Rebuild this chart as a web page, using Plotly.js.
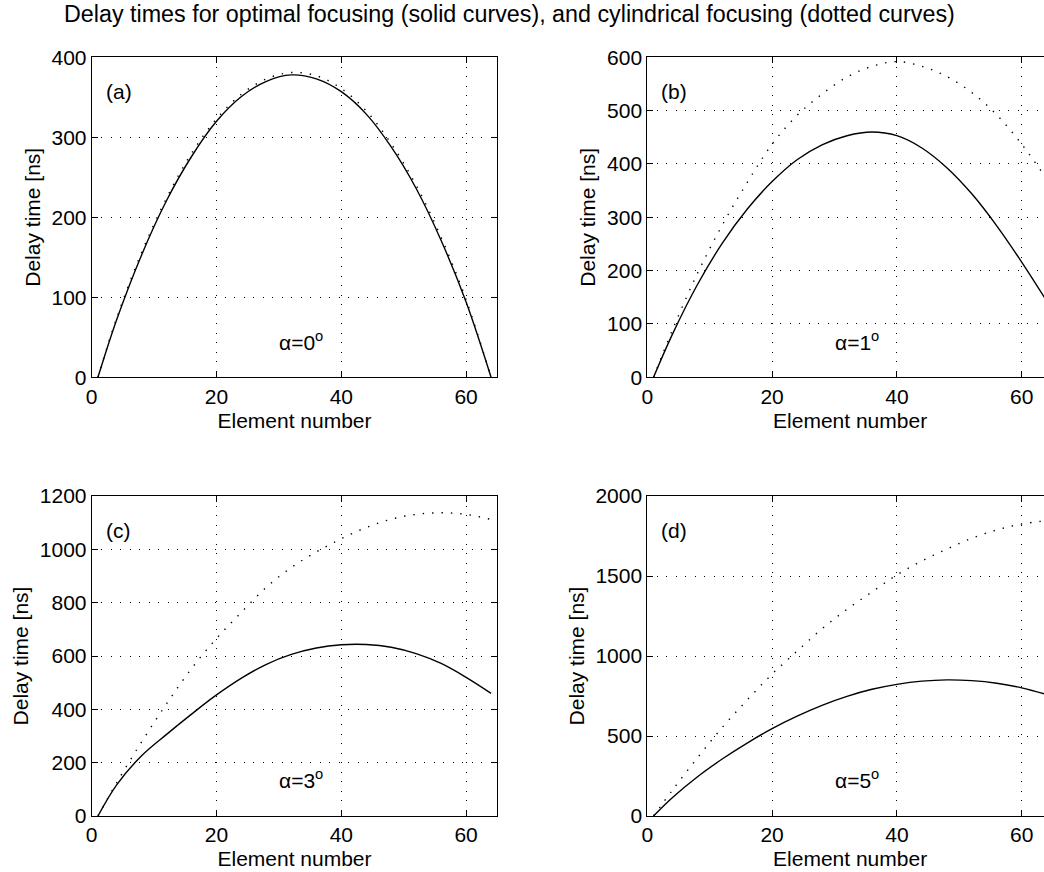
<!DOCTYPE html>
<html>
<head>
<meta charset="utf-8">
<script src="https://cdn.plot.ly/plotly-3.0.1.min.js"></script>
<style>
  html, body { margin: 0; padding: 0; overflow: hidden; background: #fff; }
  #chart { width: 1100px; height: 872px; }
</style>
</head>
<body>
<div id="chart"></div>
<script>
// ---- data ----
const elements = [1, 4, 8, 12, 16, 20, 24, 28, 32, 36, 40, 44, 48, 52, 56, 60, 64];

const optimalA = [0, 72, 153, 221, 276, 320, 351, 370, 378, 373, 357, 329, 288, 236, 171, 94, 0];
const cylA     = [0, 74, 156, 224, 280, 323, 354, 373, 381, 377, 361, 333, 292, 240, 175, 97, 0];

const optimalB = [0, 80, 173, 251, 315, 367, 408, 436, 453, 460, 453, 430, 393, 344, 284, 216, 143];
const cylB     = [0, 88, 194, 285, 365, 437, 491, 531, 563, 583, 592, 583, 564, 534, 492, 437, 372];

const optimalC = [0, 117, 226, 306, 382, 454, 517, 569, 606, 630, 642, 643, 633, 609, 572, 520, 460];
const cylC     = [0, 125, 278, 421, 553, 666, 764, 858, 932, 990, 1040, 1082, 1113, 1131, 1137, 1131, 1112];

const optimalD = [0, 114, 244, 356, 456, 546, 624, 692, 748, 792, 823, 843, 851, 846, 830, 801, 759];
const cylD     = [0, 160, 362, 553, 725, 887, 1030, 1170, 1292, 1400, 1507, 1594, 1668, 1736, 1788, 1825, 1845];

const xTicks = [0, 20, 40, 60];
const panelLabels = ['(a)', '(b)', '(c)', '(d)'];
const angleLabels = ['α=0<sup>o</sup>', 'α=1<sup>o</sup>', 'α=3<sup>o</sup>', 'α=5<sup>o</sup>'];
const yRanges = [[0, 400], [0, 600], [0, 1200], [0, 2000]];
const yDticks = [100, 100, 200, 500];
const titleText = 'Delay times for optimal focusing (solid curves), and cylindrical focusing (dotted curves)';
const xTitle = 'Element number';
const yTitle = 'Delay time [ns]';

// ---- layout geometry (pixels in a 1100 x 872 canvas; window shows 1044) ----
const W = 1100, H = 872;
const FONT = 'Liberation Sans, Arial, Helvetica, sans-serif';
const FS = 21;
const panels = [
  {l: 91.7,  r: 497.3,  t: 57.3, b: 377.3},
  {l: 647.3, r: 1052.9, t: 57.3, b: 377.3},
  {l: 91.7,  r: 497.3,  t: 496,  b: 816},
  {l: 647.3, r: 1052.9, t: 496,  b: 816}
];
const optimal = [optimalA, optimalB, optimalC, optimalD];
const cyl = [cylA, cylB, cylC, cylD];

const traces = [];
const layout = {
  width: W, height: H,
  margin: {l: 0, r: 0, t: 0, b: 0},
  paper_bgcolor: '#fff', plot_bgcolor: '#fff',
  showlegend: false,
  font: {family: FONT, size: FS, color: '#000'},
  title: {text: titleText, x: 64 / W, xanchor: 'left', xref: 'paper',
          y: 1 - 14 / H, yanchor: 'middle', yref: 'paper',
          font: {family: FONT, size: 23.3, color: '#000'}},
  annotations: []
};

panels.forEach((p, i) => {
  const n = i + 1;
  const xa = n === 1 ? 'x' : 'x' + n;
  const ya = n === 1 ? 'y' : 'y' + n;
  const xKey = n === 1 ? 'xaxis' : 'xaxis' + n;
  const yKey = n === 1 ? 'yaxis' : 'yaxis' + n;

  traces.push({x: elements, y: cyl[i], xaxis: xa, yaxis: ya, mode: 'lines',
    line: {color: '#000', width: 1.4, dash: '1.4px,8px', shape: 'spline', smoothing: 1},
    hoverinfo: 'skip'});
  traces.push({x: elements, y: optimal[i], xaxis: xa, yaxis: ya, mode: 'lines',
    line: {color: '#000', width: 1.4, shape: 'spline', smoothing: 1},
    hoverinfo: 'skip'});

  const common = {
    showgrid: true, gridcolor: '#000', griddash: '1px,8.5px', gridwidth: 1,
    showline: true, mirror: 'ticks', linecolor: '#000', linewidth: 1,
    ticks: 'inside', ticklen: 6, tickcolor: '#000', tickwidth: 1,
    zeroline: false, fixedrange: true,
    tickfont: {family: FONT, size: FS, color: '#000'}
  };
  layout[xKey] = Object.assign({}, common, {
    domain: [p.l / W, p.r / W], anchor: ya,
    range: [0, 65], tickmode: 'array', tickvals: xTicks,
    title: {text: xTitle, font: {family: FONT, size: FS, color: '#000'}, standoff: 6}
  });
  layout[yKey] = Object.assign({}, common, {
    domain: [1 - p.b / H, 1 - p.t / H], anchor: xa,
    range: yRanges[i], tick0: 0, dtick: yDticks[i],
    title: {text: yTitle, font: {family: FONT, size: FS, color: '#000'}, standoff: 5}
  });

  layout.annotations.push({text: panelLabels[i], xref: xa, yref: ya,
    x: 1.9, y: yRanges[i][1] * 0.892, xanchor: 'left', yanchor: 'middle',
    showarrow: false, font: {family: FONT, size: FS, color: '#000'}});
  layout.annotations.push({text: angleLabels[i], xref: xa, yref: ya,
    x: 29.7, y: yRanges[i][1] * 0.115, xanchor: 'left', yanchor: 'middle',
    showarrow: false, font: {family: FONT, size: FS, color: '#000'}});
});

Plotly.newPlot('chart', traces, layout, {displayModeBar: false, staticPlot: true});
</script>
</body>
</html>
